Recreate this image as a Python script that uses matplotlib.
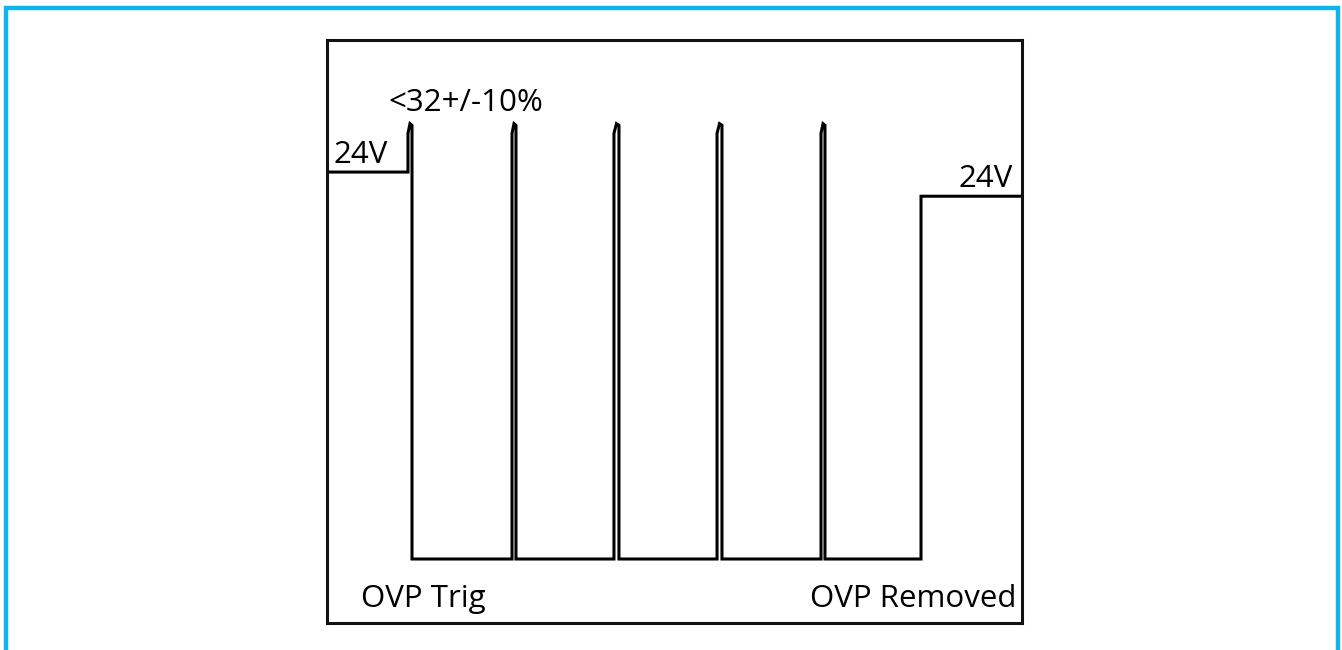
import matplotlib.pyplot as plt
from matplotlib.lines import Line2D

plt.rcParams['font.family'] = ['Open Sans', 'DejaVu Sans']

# waveform values (time in arbitrary units, 0..100 across the frame)
pulse_rise = [11.65, 26.62, 41.29, 56.12, 71.08]
pulse_fall = [12.23, 27.19, 42.01, 56.83, 71.65]
final_rise = 85.47
t_end = 100
v_start = 24
v_peak = 27
v_low = 0
v_end = 22.5

labels = {
    'start': '24V',
    'peak': '<32+/-10%',
    'end': '24V',
    'trig': 'OVP Trig',
    'removed': 'OVP Removed',
}

# build the waveform path
t = [0, pulse_rise[0]]
v = [v_start, v_start]
for i, (r, f) in enumerate(zip(pulse_rise, pulse_fall)):
    if i > 0:
        t += [r]
        v += [v_low]
    w = f - r
    t += [r, r + 0.5 * w, f, f]
    v += [v_peak - 0.6, v_peak, v_peak - 0.1, v_low]
t += [final_rise, final_rise, t_end]
v += [v_low, v_end, v_end]

fig = plt.figure(figsize=(13.42, 6.5), dpi=100)
ax = fig.add_axes([327 / 1342, 1 - 623 / 650, 695 / 1342, 583 / 650])
ax.plot(t, v, color='black', lw=2.2, solid_joinstyle='miter')
ax.set_xlim(0, 100)
ax.set_ylim(-3.97, 32.19)
ax.set_xticks([])
ax.set_yticks([])
for s in ax.spines.values():
    s.set_linewidth(2.2)
    s.set_color('#111111')

fs = 22.5
ax.text(1.0, 24.56, labels['start'], fontsize=fs, va='baseline', ha='left')
ax.text(8.9, 27.78, labels['peak'], fontsize=fs, va='baseline', ha='left')
ax.text(98.7, 23.07, labels['end'], fontsize=fs, va='baseline', ha='right')
ax.text(4.9, -2.96, labels['trig'], fontsize=fs, va='baseline', ha='left')
ax.text(99.2, -2.96, labels['removed'], fontsize=fs, va='baseline', ha='right')

# light blue frame around the picture (open at the bottom)
blue = '#10b4ec'
fig.add_artist(Line2D([6 / 1342, 6 / 1342, 1338 / 1342, 1338 / 1342],
                      [0, 1 - 8 / 650, 1 - 8 / 650, 0],
                      transform=fig.transFigure, color=blue, lw=3.2,
                      solid_joinstyle='miter'))

fig.savefig('out.png', dpi=100)
